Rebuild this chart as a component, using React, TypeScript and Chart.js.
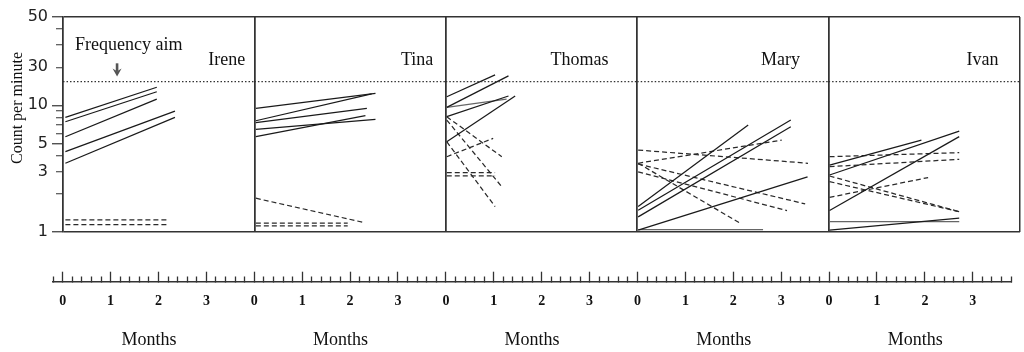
import React, { useEffect, useRef } from "react";
import { Chart, registerables } from "chart.js";

Chart.register(...registerables);

// ---------- data ----------
const PANELS = ["Irene", "Tina", "Thomas", "Mary", "Ivan"];
const MONTH_LABELS = ["0", "1", "2", "3"];
const MONTHS_PER_PANEL = 4;
const MONTHS_TITLE = "Months";
const Y_TITLE = "Count per minute";
const AIM_LABEL = "Frequency aim";
const Y_TICKS = [1, 2, 3, 4, 5, 6, 7, 8, 9, 10, 20, 30, 40, 50];
const Y_TICK_LABELS = ["1", "", "3", "", "5", "", "", "", "", "10", "30", "", "", "50"];
const Y_LONG_TICKS = [1, 5, 10, 50];
const FREQUENCY_AIM = 15.4;

type Seg = [number, number, number, number]; // month0, count0, month1, count1

const IRENE_SOLID: Seg[] = [
  [0.05, 8.04, 1.96, 13.9],
  [0.05, 7.41, 1.96, 12.8],
  [0.05, 5.64, 1.96, 11.2],
  [0.05, 4.3, 2.34, 9.0],
  [0.05, 3.48, 2.34, 8.04],
];
const IRENE_DASHED: Seg[] = [
  [0.05, 1.24, 2.17, 1.24],
  [0.05, 1.14, 2.17, 1.14],
];

const TINA_SOLID: Seg[] = [
  [0.03, 9.47, 2.53, 12.45],
  [0.03, 7.55, 2.45, 12.3],
  [0.03, 7.29, 2.35, 9.47],
  [0.03, 6.45, 2.53, 7.74],
  [0.03, 5.65, 2.32, 8.28],
];
const TINA_DASHED: Seg[] = [
  [0.03, 1.84, 2.3, 1.18],
  [0.03, 1.17, 1.95, 1.17],
  [0.03, 1.11, 1.95, 1.11],
];

const THOMAS_SOLID: Seg[] = [
  [0.02, 11.7, 1.03, 17.4],
  [0.02, 9.64, 1.31, 17.1],
  [0.02, 8.13, 1.31, 11.85],
  [0.02, 5.15, 1.45, 11.85],
];
const THOMAS_SOLID_LIGHT: Seg[] = [[0.02, 9.64, 1.27, 11.2]];
const THOMAS_DASHED: Seg[] = [
  [0.02, 8.13, 1.17, 3.92],
  [0.02, 7.65, 1.17, 2.27],
  [0.02, 5.15, 1.03, 1.58],
  [0.02, 3.92, 0.99, 5.48],
  [0.02, 2.93, 1.03, 2.93],
  [0.02, 2.76, 1.03, 2.76],
];

const MARY_SOLID: Seg[] = [
  [0.02, 1.58, 2.32, 6.98],
  [0.02, 1.48, 3.21, 7.65],
  [0.02, 1.31, 3.21, 6.77],
  [0.02, 1.03, 3.56, 2.72],
];
const MARY_SOLID_LIGHT: Seg[] = [[0.02, 1.04, 2.63, 1.04]];
const MARY_DASHED: Seg[] = [
  [0.02, 4.43, 3.57, 3.48],
  [0.02, 3.48, 3.02, 5.31],
  [0.02, 3.48, 2.18, 1.15],
  [0.02, 3.43, 3.51, 1.66],
  [0.02, 2.98, 3.13, 1.47],
];

const IVAN_SOLID: Seg[] = [
  [0.02, 3.37, 1.94, 5.31],
  [0.02, 2.81, 2.73, 6.26],
  [0.02, 1.47, 2.73, 5.65],
  [0.02, 1.03, 2.73, 1.28],
];
const IVAN_SOLID_LIGHT: Seg[] = [[0.02, 1.2, 2.73, 1.2]];
const IVAN_DASHED: Seg[] = [
  [0.02, 3.92, 2.73, 4.22],
  [0.02, 3.27, 2.73, 3.74],
  [0.02, 2.76, 2.73, 1.44],
  [0.02, 2.49, 2.73, 1.44],
  [0.02, 1.87, 2.08, 2.68],
];

const SOLID = [IRENE_SOLID, TINA_SOLID, THOMAS_SOLID, MARY_SOLID, IVAN_SOLID];
const SOLID_LIGHT: Seg[][] = [[], [], THOMAS_SOLID_LIGHT, MARY_SOLID_LIGHT, IVAN_SOLID_LIGHT];
const DASHED = [IRENE_DASHED, TINA_DASHED, THOMAS_DASHED, MARY_DASHED, IVAN_DASHED];

// label anchors (months / counts)
const NAME_RIGHT_MONTH = [3.81, 3.74, 3.4, 3.4, 3.55];
const NAME_VALUE = 22.9;
const AIM_TEXT_MONTH = 0.25;
const AIM_TEXT_VALUE = 30;
const AIM_ARROW_MONTH = 1.13;
const MONTHS_TITLE_AT = 1.8;

const SERIF = "'Liberation Serif', 'Times New Roman', serif";
const INK = "#111";

function buildDatasets() {
  const ds: any[] = [];
  PANELS.forEach((_, p) => {
    const xAxisID = "x" + p;
    ds.push({
      data: [
        { x: 0, y: FREQUENCY_AIM },
        { x: MONTHS_PER_PANEL, y: FREQUENCY_AIM },
      ],
      xAxisID,
      yAxisID: "y",
      borderColor: "#333",
      borderWidth: 1.4,
      borderDash: [1.5, 2],
      pointRadius: 0,
      fill: false,
    });
    const add = (segs: Seg[], color: string, dash: number[]) =>
      segs.forEach(([x0, y0, x1, y1]) =>
        ds.push({
          data: [
            { x: x0, y: y0 },
            { x: x1, y: y1 },
          ],
          xAxisID,
          yAxisID: "y",
          borderColor: color,
          borderWidth: 1.25,
          borderDash: dash,
          pointRadius: 0,
          fill: false,
        })
      );
    add(SOLID[p], "#1a1a1a", []);
    add(SOLID_LIGHT[p], "#666", []);
    add(DASHED[p], "#2a2a2a", [5, 3]);
  });
  return ds;
}

const textPlugin = {
  id: "panelText",
  afterDraw(chart: any) {
    const ctx = chart.ctx as CanvasRenderingContext2D;
    const y = chart.scales.y;
    ctx.save();
    ctx.fillStyle = INK;
    ctx.font = `18px ${SERIF}`;
    ctx.textBaseline = "middle";
    ctx.textAlign = "right";
    PANELS.forEach((name, p) => {
      const xs = chart.scales["x" + p];
      ctx.fillText(name, xs.getPixelForValue(NAME_RIGHT_MONTH[p]), y.getPixelForValue(NAME_VALUE));
    });
    const x0 = chart.scales.x0;
    ctx.textAlign = "left";
    ctx.fillText(AIM_LABEL, x0.getPixelForValue(AIM_TEXT_MONTH), y.getPixelForValue(AIM_TEXT_VALUE));
    // arrow
    const ax = x0.getPixelForValue(AIM_ARROW_MONTH);
    const top = y.getPixelForValue(21.5);
    const tip = y.getPixelForValue(16.9);
    const h = tip - top;
    ctx.fillStyle = "#555";
    ctx.fillRect(ax - 1.3, top, 2.6, h * 0.6);
    ctx.beginPath();
    ctx.moveTo(ax - 4.5, top + h * 0.4);
    ctx.lineTo(ax, top + h * 0.6);
    ctx.lineTo(ax + 4.5, top + h * 0.4);
    ctx.lineTo(ax, tip);
    ctx.closePath();
    ctx.fill();
    // y title
    ctx.fillStyle = INK;
    ctx.translate(17.5, 108);
    ctx.rotate(-Math.PI / 2);
    ctx.textAlign = "center";
    ctx.font = `16px ${SERIF}`;
    ctx.fillText(Y_TITLE, 0, 0);
    ctx.restore();
  },
};

function panelConfig(): any {
  const scales: any = {};
  PANELS.forEach((_, p) => {
    scales["x" + p] = {
      type: "linear",
      axis: "x",
      position: "bottom",
      stack: "panels",
      stackWeight: 1,
      min: 0,
      max: MONTHS_PER_PANEL,
      afterBuildTicks: (s: any) => {
        s.ticks = [{ value: 0 }, { value: MONTHS_PER_PANEL }];
      },
      ticks: { display: false },
      border: { display: false },
      grid: { display: true, drawOnChartArea: true, drawTicks: false, color: "#333", lineWidth: 1.5 },
    };
  });
  scales.y = {
    type: "logarithmic",
    position: "left",
    min: 1,
    max: 50,
    afterBuildTicks: (s: any) => {
      s.ticks = Y_TICKS.map((v) => ({ value: v }));
    },
    afterFit: (s: any) => {
      s.width = 63;
      s.paddingTop = 0;
      s.paddingBottom = 0;
    },
    ticks: {
      autoSkip: false,
      padding: 4,
      color: "#222",
      font: { family: "'DejaVu Sans', sans-serif", size: 16 },
      callback: (_v: any, i: number) => Y_TICK_LABELS[i],
    },
    border: { display: true, color: "#333", width: 1.5 },
    grid: {
      drawOnChartArea: true,
      color: (c: any) => (c.tick && (c.tick.value === 1 || c.tick.value === 50) ? "#333" : "rgba(0,0,0,0)"),
      lineWidth: 1.5,
      drawTicks: true,
      tickLength: 11,
      tickColor: "#333",
      tickWidth: 1.2,
      tickBorderDash: (c: any) => (c.tick && Y_LONG_TICKS.includes(c.tick.value) ? [] : [0, 4, 7, 30]),
    },
  };
  return {
    type: "line",
    data: { datasets: buildDatasets() },
    options: {
      responsive: false,
      animation: false,
      events: [],
      layout: { padding: { left: 0, right: 4, top: 17, bottom: 13.3 } },
      plugins: { legend: { display: false }, tooltip: { enabled: false } },
      scales,
    },
    plugins: [textPlugin],
  };
}

const isWhole = (v: number) => Math.abs(v - Math.round(v)) < 1e-6;

function rulerConfig(): any {
  const total = PANELS.length * MONTHS_PER_PANEL;
  return {
    type: "line",
    data: { datasets: [] },
    options: {
      responsive: false,
      animation: false,
      events: [],
      layout: { padding: { left: 53.1, right: 12.9, top: 20, bottom: 0.3 } },
      plugins: { legend: { display: false }, tooltip: { enabled: false } },
      scales: {
        ruler: {
          type: "linear",
          axis: "x",
          position: "bottom",
          weight: 0,
          min: -0.2,
          max: total - 0.2,
          afterFit: (s: any) => {
            s.height = 40;
            s.paddingLeft = 0;
            s.paddingRight = 0;
          },
          ticks: {
            stepSize: 0.2,
            includeBounds: false,
            autoSkip: false,
            maxRotation: 0,
            minRotation: 0,
            padding: 21.6,
            color: INK,
            font: { family: SERIF, size: 14, weight: "bold" },
            callback: (v: any) => {
              const n = Number(v);
              if (!isWhole(n) || n < 0) return "";
              return MONTH_LABELS[Math.round(n) % MONTHS_PER_PANEL];
            },
          },
          border: { display: true, color: "#333", width: 1.5 },
          grid: {
            display: true,
            drawOnChartArea: false,
            drawTicks: true,
            tickLength: -10,
            tickColor: "#333",
            tickWidth: 1.3,
            tickBorderDash: (c: any) => (c.tick && isWhole(c.tick.value) ? [] : [6, 100]),
          },
        },
        months: {
          type: "linear",
          axis: "x",
          position: "bottom",
          weight: 1,
          min: -0.2,
          max: total - 0.2,
          afterBuildTicks: (s: any) => {
            s.ticks = PANELS.map((_, p) => ({ value: p * MONTHS_PER_PANEL + MONTHS_TITLE_AT }));
          },
          afterFit: (s: any) => {
            s.height = 30;
            s.paddingLeft = 0;
            s.paddingRight = 0;
          },
          ticks: {
            autoSkip: false,
            maxRotation: 0,
            minRotation: 0,
            padding: 7.3,
            color: INK,
            font: { family: SERIF, size: 18 },
            callback: () => MONTHS_TITLE,
          },
          border: { display: false },
          grid: { display: false, drawTicks: false },
        },
        y: { display: false },
      },
    },
  };
}

export default function App() {
  const refA = useRef<HTMLCanvasElement>(null);
  const refB = useRef<HTMLCanvasElement>(null);
  useEffect(() => {
    const a = new Chart(refA.current as HTMLCanvasElement, panelConfig());
    const b = new Chart(refB.current as HTMLCanvasElement, rulerConfig());
    return () => {
      a.destroy();
      b.destroy();
    };
  }, []);
  return (
    <div style={{ position: "absolute", left: 0, top: 0, width: 1024, height: 352, background: "#fff" }}>
      <canvas ref={refA} width={1024} height={245} style={{ position: "absolute", left: 0, top: 0 }} />
      <canvas ref={refB} width={1024} height={112} style={{ position: "absolute", left: 0, top: 240 }} />
    </div>
  );
}
